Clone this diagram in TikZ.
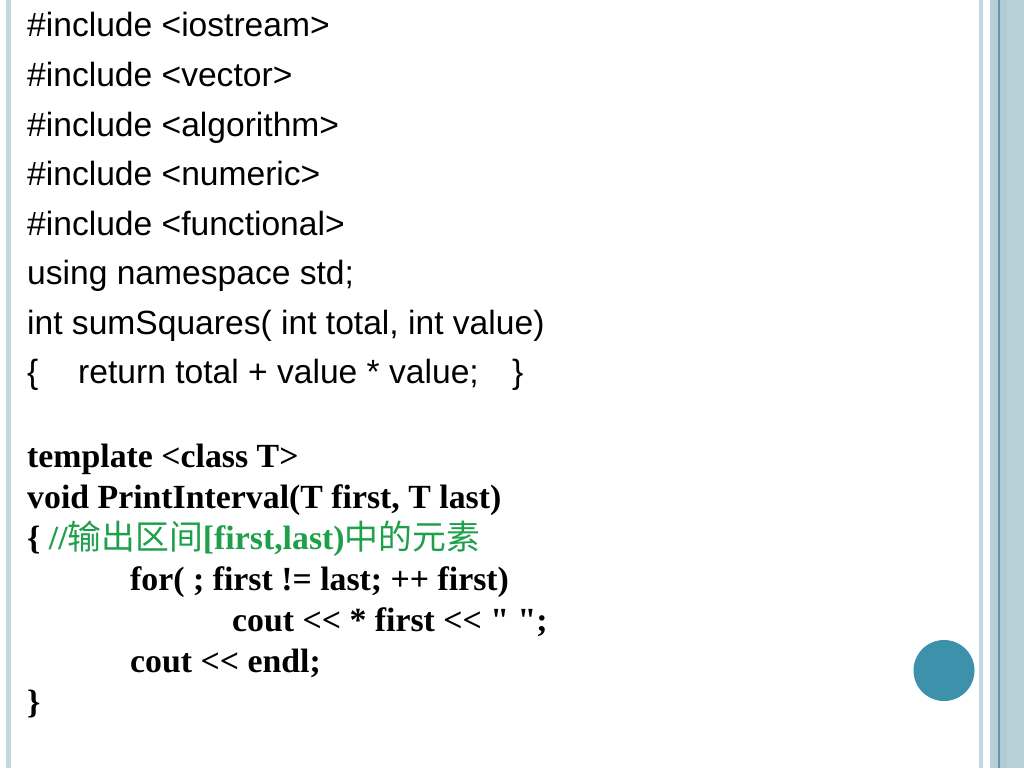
\documentclass[tikz,border=0pt]{standalone}
\usepackage{fontspec}
\newfontfamily\timesfont[Ligatures=NoCommon]{Liberation Serif}
\newfontfamily\arialfont[Ligatures=NoCommon]{Liberation Sans}
\newfontfamily\cjk{Noto Sans CJK SC}
\usetikzlibrary{positioning}
\definecolor{barblue}{HTML}{B7CFD7}
\definecolor{barpale}{HTML}{C2D7DE}
\definecolor{barmid}{HTML}{B1CAD3}
\definecolor{bardark}{HTML}{5F9BAE}
\definecolor{dotblue}{HTML}{3E91AA}
\definecolor{remark}{RGB}{30,160,75}

\begin{document}
\begin{tikzpicture}[x=1pt,y=-1pt,inner sep=0pt,
    code/.style={font=\arialfont\fontsize{33.6}{40}\selectfont},
    tmpl/.style={font=\timesfont\bfseries\fontsize{33.8}{40}\selectfont}]
  \useasboundingbox[fill=white] (0,0) rectangle (1024,768);

  % slide frame
  \fill[barpale] (6,0) rectangle (11,768);
  \fill[barpale] (979,0) rectangle (983,768);
  \fill[barblue] (990,0) rectangle (998,768);
  \fill[bardark] (998,0) rectangle (999.5,768);
  \fill[barmid] (999.5,0) rectangle (1007,768);
  \fill[barblue] (1007,0) rectangle (1024,768);
  \fill[dotblue] (944,670.5) circle (30.5);

  \node(inc1) [code,anchor=base west] at (27,37) {\#include <iostream>};
  \node(inc2) [code,below=49.5pt of inc1.base west,anchor=base west] {\#include <vector>};
  \node(inc3) [code,below=49.5pt of inc2.base west,anchor=base west] {\#include <algorithm>};
  \node(inc4) [code,below=49.5pt of inc3.base west,anchor=base west] {\#include <numeric>};
  \node(inc5) [code,below=49.5pt of inc4.base west,anchor=base west] {\#include <functional>};
  \node(using) [code,below=49.5pt of inc5.base west,anchor=base west] {using namespace std;};
  \node(sumsq) [code,below=49.5pt of using.base west,anchor=base west] {int sumSquares( int total, int value)};
  \node(body) [code,below=49.5pt of sumsq.base west,anchor=base west] {\{\hspace{39.8pt}return total + value * value;\hspace{33.4pt}\}};

  \node(tmpl) [tmpl,below=84pt of body.base west,anchor=base west] {template <class T>};
  \node(print) [tmpl,below=41pt of tmpl.base west,anchor=base west] {void PrintInterval(T first, T last)};
  \node(open) [tmpl,below=41pt of print.base west,anchor=base west] {\{ \textcolor{remark}{//{\cjk\mdseries 输出区间}[first,last){\cjk\mdseries 中的元素}}};
  \node(loop) [tmpl,below right=41pt and 103pt of open.base west,anchor=base west] {for( ; first != last; ++ first)};
  \node(out) [tmpl,below right=41pt and 102pt of loop.base west,anchor=base west] {cout << * first << " ";};
  \node(endl) [tmpl,below=82pt of loop.base west,anchor=base west] {cout << endl;};
  \node(close) [tmpl,below=164pt of open.base west,anchor=base west] {\}};
\end{tikzpicture}
\end{document}
